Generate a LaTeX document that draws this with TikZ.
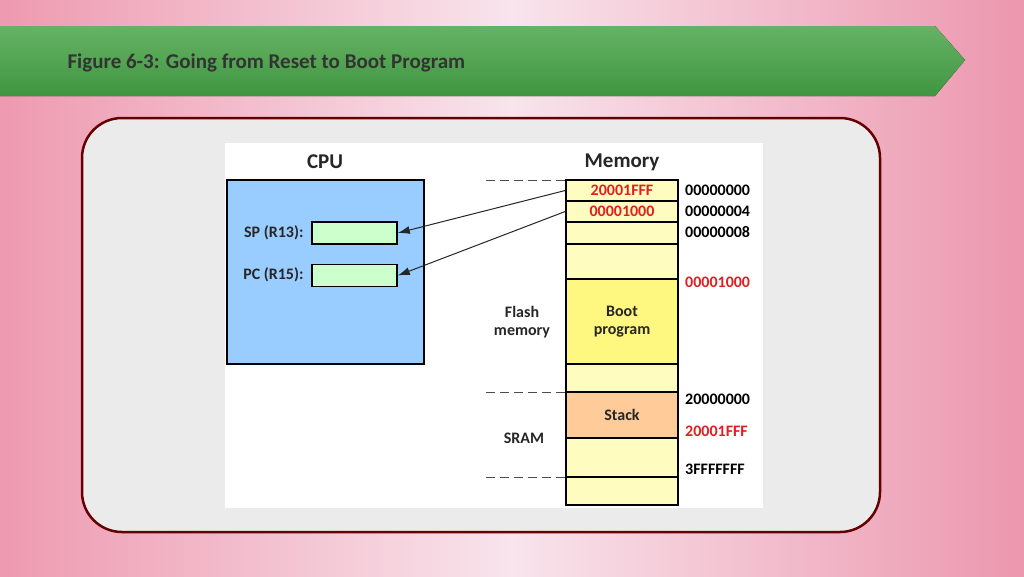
\documentclass[tikz,border=0pt]{standalone}
\usepackage{fontspec}
\setmainfont{Carlito}
\usetikzlibrary{arrows.meta}
\definecolor{red1}{HTML}{E02020}
\definecolor{cpub}{HTML}{99CCFF}
\definecolor{pinkL}{HTML}{EE9AB0}
\definecolor{pinkR}{HTML}{EC97AE}
\definecolor{pinkM}{HTML}{F8E4EC}
\begin{document}
\begin{tikzpicture}[x=1pt,y=-1pt,
  cell/.style={draw=black,line width=1.6pt},
  lab/.style={font=\bfseries\fontsize{16}{18}\selectfont,text=black!85},
  addr/.style={font=\bfseries\fontsize{16}{18}\selectfont,anchor=west,inner sep=0pt},
  ttl/.style={font=\bfseries\fontsize{21}{24}\selectfont,text=black!85},
  dline/.style={dash pattern=on 9pt off 5pt,line width=1pt,draw=black!70},
  arr/.style={-{Latex[length=12pt,width=8pt]},line width=1pt,draw=black!85}]
\useasboundingbox (0,0) rectangle (1024,576);
\shade[left color=pinkL, right color=pinkR, middle color=pinkM] (0,0) rectangle (1024,576);
\fill[top color=green!50!black!60!white, bottom color=green!45!black!75] (0,26) -- (935,26) -- (965,60) -- (935,96) -- (0,96) -- cycle;
\node[anchor=west,font=\bfseries\fontsize{21}{24}\selectfont,text=black!80] (title) at (64,63) {Figure 6-3: Going from Reset to Boot Program};
\draw[draw=red!40!black,line width=2.5pt,fill=black!8,rounded corners=40pt] (82,118) rectangle (880,532);
\fill[white] (225,143) rectangle (763,508);
% CPU
\node[ttl] (cputitle) at (325,162) {CPU};
\draw[cell,fill=cpub] (227,180) rectangle (424,364);
\node[lab,anchor=east] (splab) at (307,233) {SP (R13):};
\node[lab,anchor=east] (pclab) at (307,275) {PC (R15):};
\node[cell,fill=green!20,minimum width=85pt,minimum height=22pt,inner sep=0pt] (sp) at (354.5,233) {};
\node[cell,fill=green!20,minimum width=85pt,minimum height=22pt,inner sep=0pt] (pc) at (354.5,275.5) {};
% Memory
\node[ttl] (memtitle) at (622,162) {Memory};
\def\mx{566}\def\mX{678}
\draw[cell,fill=yellow!25] (\mx,201) rectangle (\mX,222);
\draw[cell,fill=yellow!25] (\mx,222) rectangle (\mX,244);
\draw[cell,fill=yellow!25] (\mx,244) rectangle (\mX,279);
\draw[cell,fill=yellow!50] (\mx,279) rectangle (\mX,364);
\draw[cell,fill=yellow!25] (\mx,364) rectangle (\mX,392);
\draw[cell,fill=orange!40] (\mx,392) rectangle (\mX,438);
\draw[cell,fill=yellow!25] (\mx,438) rectangle (\mX,477);
\draw[cell,fill=yellow!25] (\mx,477) rectangle (\mX,505);
\node[cell,fill=yellow!25,minimum width=112pt,minimum height=21pt,inner sep=0pt,lab,text=red1] (m0) at (622,190.5) {20001FFF};
\node[cell,fill=yellow!25,minimum width=112pt,minimum height=21pt,inner sep=0pt,lab,text=red1] (m1) at (622,211.5) {00001000};
\node[lab,align=center] (boot) at (622,322) {Boot\\program};
\node[lab] (stack) at (622,415) {Stack};
\node[lab,align=center] (flash) at (522,322) {Flash\\memory};
\node[lab] (sram) at (524,438) {SRAM};
\draw[dline] (486,180) -- (566,180);
\draw[dline] (486,392) -- (566,392);
\draw[dline] (486,477) -- (566,477);
\node[addr] (a0) at (685,190) {00000000};
\node[addr] (a4) at (685,211) {00000004};
\node[addr] (a8) at (685,232) {00000008};
\node[addr,text=red1] (a1000) at (685,282) {00001000};
\node[addr] (a2) at (685,399) {20000000};
\node[addr,text=red1] (a2f) at (685,431) {20001FFF};
\node[addr] (a3) at (685,469) {3FFFFFFF};
\draw[arr] (m0.west) -- (sp.east);
\draw[arr] (m1.west) -- (pc.east);
\end{tikzpicture}
\end{document}
